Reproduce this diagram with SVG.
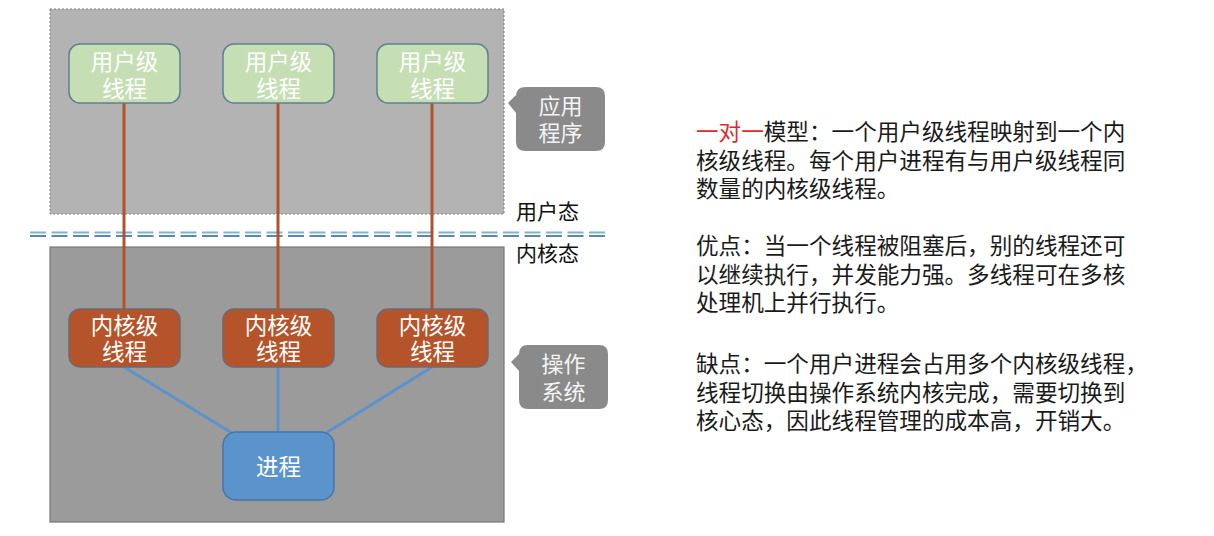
<svg xmlns="http://www.w3.org/2000/svg" width="1214" height="536" viewBox="0 0 1214 536">
<style>
.cjk{font-family:"Noto Sans CJK SC","Noto Sans",sans-serif}
.nt{font-size:22.5px;fill:#ffffff;text-anchor:middle}
.user{fill:#c5deb3;stroke:#5f8090;stroke-width:1.5}
.kern{fill:#b5532a;stroke:#6f6a70;stroke-width:1.5}
.proc{fill:#5b93cc;stroke:#4776a8;stroke-width:1.5}
.call{fill:#8a8a8a}
.ct{font-size:22px;fill:#f4f4f4;text-anchor:middle}
.lab{font-size:21px;fill:#111}
.body{font-size:22.6px;fill:#1a1a1a}
.brown{stroke:#b0532c;stroke-width:3;fill:none}
.blue{stroke:#5b93cc;stroke-width:3;fill:none}
</style>
<rect width="1214" height="536" fill="#ffffff"/>
<g id="app-region">
<rect x="50" y="9" width="454" height="205" fill="#b3b3b3" stroke="#7a7a7a" stroke-width="1" stroke-dasharray="2 2"/>
</g>
<g id="os-region">
<rect x="50" y="247" width="454" height="275" fill="#9b9b9b" stroke="#777" stroke-width="1.2"/>
</g>
<g id="divider">
<line x1="30" y1="232.5" x2="608" y2="232.5" stroke="#7fb3de" stroke-width="2" stroke-dasharray="16 5.5"/>
<line x1="30" y1="236" x2="608" y2="236" stroke="#5a86b0" stroke-width="2" stroke-dasharray="16 5.5"/>
</g>
<g id="connectors">
<line class="brown" x1="124" y1="103" x2="124" y2="309"/>
<line class="brown" x1="278" y1="103" x2="278" y2="309"/>
<line class="brown" x1="432" y1="103" x2="432" y2="309"/>
<line class="blue" x1="124" y1="367" x2="232" y2="433"/>
<line class="blue" x1="278" y1="367" x2="278" y2="433"/>
<line class="blue" x1="432" y1="367" x2="326" y2="433"/>
</g>
<g id="user1"><rect class="user" x="69" y="44" width="111" height="59" rx="11"/><text class="cjk nt"><tspan x="124.5" y="70">用户级</tspan><tspan x="124.5" y="97">线程</tspan></text></g>
<g id="user2"><rect class="user" x="223" y="44" width="111" height="59" rx="11"/><text class="cjk nt"><tspan x="278.5" y="70">用户级</tspan><tspan x="278.5" y="97">线程</tspan></text></g>
<g id="user3"><rect class="user" x="377" y="44" width="111" height="59" rx="11"/><text class="cjk nt"><tspan x="432.5" y="70">用户级</tspan><tspan x="432.5" y="97">线程</tspan></text></g>
<g id="kern1"><rect class="kern" x="69" y="309" width="111" height="58" rx="11"/><text class="cjk nt"><tspan x="124.5" y="334">内核级</tspan><tspan x="124.5" y="360">线程</tspan></text></g>
<g id="kern2"><rect class="kern" x="223" y="309" width="111" height="58" rx="11"/><text class="cjk nt"><tspan x="278.5" y="334">内核级</tspan><tspan x="278.5" y="360">线程</tspan></text></g>
<g id="kern3"><rect class="kern" x="377" y="309" width="111" height="58" rx="11"/><text class="cjk nt"><tspan x="432.5" y="334">内核级</tspan><tspan x="432.5" y="360">线程</tspan></text></g>
<g id="process"><rect class="proc" x="223" y="432" width="111" height="68" rx="13"/><text class="cjk nt" x="278.5" y="475">进程</text></g>
<g id="callout-app">
<path class="call" d="M526,87 H596 Q605,87 605,96 V142 Q605,151 596,151 H526 Q516,151 516,142 V113 L508,103 L516,95 V96 Q516,87 526,87 Z"/>
<text class="cjk ct"><tspan x="560.5" y="114">应用</tspan><tspan x="560.5" y="141">程序</tspan></text>
</g>
<g id="callout-os">
<path class="call" d="M528,345 H599 Q608,345 608,354 V400 Q608,409 599,409 H528 Q519,409 519,400 V371 L511,362 L519,354 Q519,345 528,345 Z"/>
<text class="cjk ct"><tspan x="563.5" y="372">操作</tspan><tspan x="563.5" y="400">系统</tspan></text>
</g>
<g id="mode-labels">
<text class="cjk lab" x="516" y="219">用户态</text>
<text class="cjk lab" x="516" y="261">内核态</text>
</g>
<g id="description">
<text class="cjk body"><tspan x="696" y="140"><tspan fill="#e02a2a">一对一</tspan>模型：一个用户级线程映射到一个内</tspan><tspan x="696" y="169">核级线程。每个用户进程有与用户级线程同</tspan><tspan x="696" y="197">数量的内核级线程。</tspan></text>
<text class="cjk body"><tspan x="696" y="254">优点：当一个线程被阻塞后，别的线程还可</tspan><tspan x="696" y="283">以继续执行，并发能力强。多线程可在多核</tspan><tspan x="696" y="311">处理机上并行执行。</tspan></text>
<text class="cjk body"><tspan x="696" y="372">缺点：一个用户进程会占用多个内核级线程，</tspan><tspan x="696" y="401">线程切换由操作系统内核完成，需要切换到</tspan><tspan x="696" y="429">核心态，因此线程管理的成本高，开销大。</tspan></text>
</g>
</svg>
